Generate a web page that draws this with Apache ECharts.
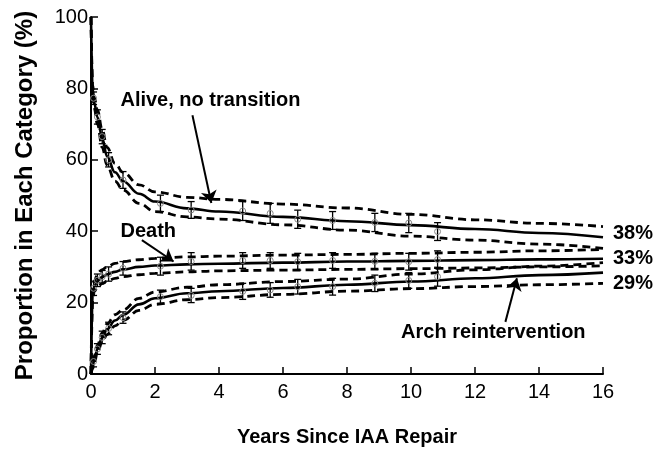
<!DOCTYPE html>
<html>
<head>
<meta charset="utf-8">
<script src="https://cdn.jsdelivr.net/npm/echarts@6/dist/echarts.min.js"></script>
<style>
  body { margin: 0; background: #fff; }
  #chart { width: 669px; height: 453px; }
</style>
</head>
<body>
<div id="chart"></div>
<script>
/**
 * 数据 - 读自原图
 */
var years = [0, 0.05, 0.1, 0.2, 0.35, 0.5, 0.75, 1, 1.5, 2, 3, 4, 6, 8, 10, 12, 14, 16];

var aliveMid = [100, 80, 76, 72, 66, 61, 56.5, 54, 50.5, 48.3, 46.4, 45.5, 44, 42.8, 41.7, 40.6, 39.5, 38.3];
var aliveHi  = [100, 81, 77.5, 74, 68.5, 63.5, 59, 56.5, 53, 51, 49.5, 48.9, 47.6, 46.5, 44.7, 43.2, 42.2, 41.3];
var aliveLo  = [100, 79, 74.5, 70, 63.5, 58.5, 54, 51.5, 47.8, 45.5, 44, 43.4, 41.8, 40.3, 38.6, 37.5, 36.4, 35.2];

var deathMid = [0, 22, 24.5, 26, 27.2, 27.9, 28.6, 29.3, 30, 30.4, 30.7, 30.9, 31.2, 31.5, 31.7, 31.9, 32.1, 32.3];
var deathHi  = [0, 23.5, 26, 27.8, 29.2, 30, 31, 31.5, 32, 32.4, 32.8, 33, 33.3, 33.5, 33.8, 34.1, 34.5, 34.9];
var deathLo  = [0, 20.5, 23, 24.3, 25.3, 26, 26.8, 27.3, 27.8, 28.2, 28.6, 28.9, 29.1, 29.3, 29.5, 29.7, 30, 30.3];

var archMid = [0, 2, 4, 7, 10.2, 12.5, 15, 16.5, 19.5, 21.2, 22.6, 23.2, 24.1, 25, 25.9, 26.8, 27.7, 28.4];
var archHi  = [0, 2.5, 5, 8, 11.5, 14, 16.6, 18, 21.2, 23, 24.3, 25, 25.9, 26.6, 28, 29.2, 30.2, 31.2];
var archLo  = [0, 1.5, 3, 6, 9, 11, 13.5, 15, 17.8, 19.5, 20.8, 21.4, 22.3, 23.2, 23.9, 24.5, 25, 25.4];

// 误差棒 (横坐标, 下限, 上限)
var barYears = [0.08, 0.2, 0.35, 0.55, 1.0, 2.17, 3.13, 4.74, 5.6, 6.46, 7.55, 8.87, 9.93, 10.83];
var aliveBarLo = [75.5, 70, 64.5, 58, 52, 45.5, 43.6, 43, 42.2, 40.8, 40.5, 39.9, 39.6, 37.4];
var aliveBarHi = [79, 74, 68.5, 62, 56.7, 50.1, 48.3, 48.3, 47.8, 45.9, 45.5, 45, 45, 42.4];
var deathBarLo = [22, 24.5, 25.5, 26, 27.7, 27.7, 29.1, 29.6, 29.6, 29.1, 29.6, 29.3, 29.1, 29.6];
var deathBarHi = [26, 28, 29, 30, 31.5, 32.7, 34, 34, 34, 33.8, 34, 33.8, 33.8, 34.5];
var archBarLo = [2, 5.5, 8.5, 11, 14.2, 19.8, 20, 20.9, 21.5, 22.4, 22.1, 23.1, 24, 24.6];
var archBarHi = [5, 8.5, 12, 14.5, 17.4, 23.5, 24, 25.4, 25.6, 26.5, 26.8, 27.7, 28.4, 29.9];

// 文字标注与箭头
var labelNames = ['Alive, no transition', 'Death', 'Arch reintervention'];
var labelPos = [[0.92, 76.7], [0.92, 40], [9.69, 11.6]];
var arrows = [[3.17, 72.5, 3.76, 47.9], [1.59, 37.5, 2.58, 31.5], [12.95, 14.6, 13.31, 26.8]];
var endTexts = ['38%', '33%', '29%'];

var xTicks = { min: 0, max: 16, interval: 2 };
var yTicks = { min: 0, max: 100, interval: 20 };

var ink = '#000';
var font = 'Liberation Sans, Arial, Helvetica, sans-serif';

function zip(xs, ys) {
    return xs.map(function (x, i) { return [x, ys[i]]; });
}

function solid(data, text, offsetY) {
    return {
        type: 'line',
        data: zip(years, data),
        showSymbol: false,
        smooth: 0.4,
        smoothMonotone: 'x',
        silent: true,
        lineStyle: { color: ink, width: 2.6 },
        endLabel: {
            show: true,
            formatter: text,
            distance: 10,
            offset: [0, offsetY],
            fontFamily: font,
            fontWeight: 'bold',
            fontSize: 20,
            color: ink
        },
        z: 3
    };
}

function dashed(data) {
    return {
        type: 'line',
        data: zip(years, data),
        showSymbol: false,
        smooth: 0.4,
        smoothMonotone: 'x',
        silent: true,
        lineStyle: { color: ink, width: 2.8, type: [8, 5] },
        z: 2
    };
}

function errorBars(lo, hi) {
    return {
        type: 'custom',
        silent: true,
        data: barYears.map(function (x, i) { return [x, lo[i], hi[i]]; }),
        encode: { x: 0, y: [1, 2] },
        renderItem: function (params, api) {
            var x = api.value(0);
            var a = api.coord([x, api.value(1)]);
            var b = api.coord([x, api.value(2)]);
            var m = api.coord([x, (api.value(1) + api.value(2)) / 2]);
            var w = 3.5;
            var st = { stroke: ink, lineWidth: 1.3 };
            return {
                type: 'group',
                children: [
                    { type: 'line', shape: { x1: a[0], y1: a[1], x2: b[0], y2: b[1] }, style: st },
                    { type: 'line', shape: { x1: a[0] - w, y1: a[1], x2: a[0] + w, y2: a[1] }, style: st },
                    { type: 'line', shape: { x1: b[0] - w, y1: b[1], x2: b[0] + w, y2: b[1] }, style: st },
                    { type: 'circle', shape: { cx: m[0], cy: m[1], r: 3 }, style: { fill: 'none', stroke: '#888', lineWidth: 1 } }
                ]
            };
        },
        z: 4
    };
}

var chart = echarts.init(document.getElementById('chart'));

var axisCommon = {
    type: 'value',
    splitLine: { show: false },
    axisLine: { show: true, lineStyle: { color: ink, width: 2 } },
    axisTick: { show: true, inside: true, length: 7, lineStyle: { color: ink, width: 1.5 } },
    axisLabel: { color: ink, fontSize: 20, fontFamily: font },
    nameLocation: 'middle',
    nameTextStyle: { color: ink, fontWeight: 'bold', fontFamily: font }
};

var option = {
    animation: false,
    backgroundColor: '#fff',
    grid: { left: 91, right: 66, top: 17, bottom: 79 },
    xAxis: echarts.util.merge({
        min: xTicks.min, max: xTicks.max, interval: xTicks.interval,
        name: 'Years Since IAA Repair',
        nameGap: 53,
        nameTextStyle: { fontSize: 20 },
        axisLabel: { margin: 8 }
    }, axisCommon),
    yAxis: echarts.util.merge({
        min: yTicks.min, max: yTicks.max, interval: yTicks.interval,
        name: 'Proportion in Each Category (%)',
        nameGap: 54,
        nameTextStyle: { fontSize: 24 },
        axisLabel: { margin: 3 }
    }, axisCommon),
    series: [
        dashed(aliveHi), dashed(aliveLo), solid(aliveMid, endTexts[0], -4),
        dashed(deathHi), dashed(deathLo), solid(deathMid, endTexts[1], 0),
        dashed(archHi), dashed(archLo), solid(archMid, endTexts[2], 11),
        errorBars(aliveBarLo, aliveBarHi),
        errorBars(deathBarLo, deathBarHi),
        errorBars(archBarLo, archBarHi),
        {
            type: 'lines',
            coordinateSystem: 'cartesian2d',
            silent: true,
            symbol: ['none', 'arrow'],
            symbolSize: [7, 12],
            lineStyle: { color: ink, width: 2, opacity: 1 },
            data: arrows.map(function (a) { return { coords: [[a[0], a[1]], [a[2], a[3]]] }; }),
            z: 5
        },
        {
            type: 'scatter',
            silent: true,
            symbolSize: 0,
            clip: false,
            itemStyle: { opacity: 1 },
            data: labelPos.map(function (p, i) { return { value: p, name: labelNames[i] }; }),
            label: {
                show: true,
                position: 'right',
                distance: 0,
                formatter: '{b}',
                fontFamily: font,
                fontWeight: 'bold',
                fontSize: 20,
                color: ink
            },
            z: 6
        }
    ]
};

chart.setOption(option);

window.addEventListener('resize', function () {
    chart.resize();
});
</script>
</body>
</html>
